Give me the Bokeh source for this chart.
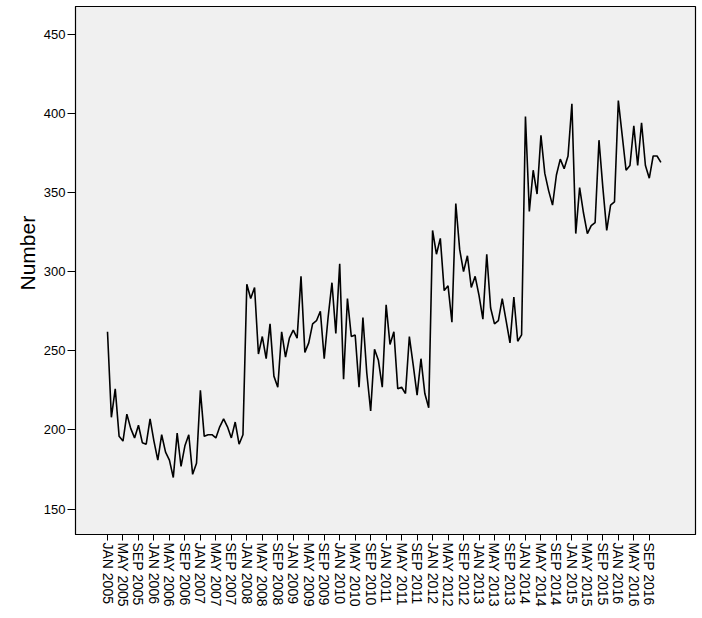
import math
from bokeh.plotting import figure
from bokeh.models import FixedTicker, Range1d, Title
from bokeh.embed import file_html
from bokeh.resources import INLINE

# Monthly values, JAN 2005 .. DEC 2016
values = [
    262, 208, 226, 196, 193, 210, 201, 195, 203, 192, 191, 207,
    193, 181, 197, 186, 181, 170, 198, 177, 190, 197, 172, 179,
    225, 196, 197, 197, 195, 202, 207, 202, 195, 205, 191, 197,
    292, 283, 290, 248, 259, 245, 267, 234, 227, 262, 246, 258,
    263, 258, 297, 249, 255, 267, 269, 275, 245, 271, 293, 261,
    305, 232, 283, 259, 260, 227, 271, 236, 212, 251, 244, 227,
    279, 254, 262, 226, 227, 223, 259, 241, 222, 245, 223, 214,
    326, 311, 321, 288, 291, 268, 343, 314, 300, 310, 290, 297,
    285, 270, 311, 277, 267, 269, 283, 269, 255, 284, 256, 260,
    398, 338, 364, 349, 386, 362, 351, 342, 361, 371, 365, 373,
    406, 324, 353, 337, 324, 329, 331, 383, 353, 326, 342, 344,
    408, 386, 364, 367, 392, 367, 394, 367, 359, 373, 373, 369,
]
month_index = list(range(len(values)))

tick_labels = [
    "JAN 2005", "MAY 2005", "SEP 2005", "JAN 2006", "MAY 2006", "SEP 2006",
    "JAN 2007", "MAY 2007", "SEP 2007", "JAN 2008", "MAY 2008", "SEP 2008",
    "JAN 2009", "MAY 2009", "SEP 2009", "JAN 2010", "MAY 2010", "SEP 2010",
    "JAN 2011", "MAY 2011", "SEP 2011", "JAN 2012", "MAY 2012", "SEP 2012",
    "JAN 2013", "MAY 2013", "SEP 2013", "JAN 2014", "MAY 2014", "SEP 2014",
    "JAN 2015", "MAY 2015", "SEP 2015", "JAN 2016", "MAY 2016", "SEP 2016",
]
tick_positions = [4 * i for i in range(len(tick_labels))]
y_ticks = [150, 200, 250, 300, 350, 400, 450]
y_title = "Number"

p = figure(
    width=702, height=618,
    output_backend="svg", toolbar_location=None,
    x_range=Range1d(-8.27, 151.94), y_range=Range1d(134.0, 467.4),
    min_border_left=75, min_border_right=7, min_border_top=6, min_border_bottom=84,
)
p.background_fill_color = "#F0F0F0"
p.border_fill_color = "white"
p.outline_line_color = "black"
p.outline_line_width = 1.2
p.xgrid.visible = False
p.ygrid.visible = False

p.line(month_index, values, line_color="black", line_width=1.6)

font = "Liberation Sans"
xa = p.xaxis[0]
xa.ticker = FixedTicker(ticks=tick_positions)
xa.major_label_overrides = {pos: lab for pos, lab in zip(tick_positions, tick_labels)}
xa.major_label_orientation = -math.pi / 2
xa.major_label_text_font = font
xa.major_label_text_font_size = "14px"
xa.major_label_text_color = "black"
xa.major_label_standoff = 2
xa.major_tick_out = 6
xa.major_tick_in = 0
xa.minor_tick_out = 0
xa.minor_tick_in = 0
xa.axis_line_color = "black"
xa.major_tick_line_color = "black"

ya = p.yaxis[0]
ya.ticker = FixedTicker(ticks=y_ticks)
ya.major_label_text_font = font
ya.major_label_text_font_size = "13px"
ya.major_label_text_color = "black"
ya.major_label_standoff = 2
ya.major_tick_out = 8
ya.major_tick_in = 0
ya.minor_tick_out = 0
ya.minor_tick_in = 0
ya.axis_line_color = "black"
ya.major_tick_line_color = "black"

# Y-axis title, placed slightly above the frame centre as in the reference
ytitle = Title(
    text=y_title, align="left", offset=244, standoff=4,
    text_font=font, text_font_size="21px", text_font_style="normal",
    text_color="black",
)
p.add_layout(ytitle, "left")

open("out.html", "w").write(file_html(p, INLINE))
